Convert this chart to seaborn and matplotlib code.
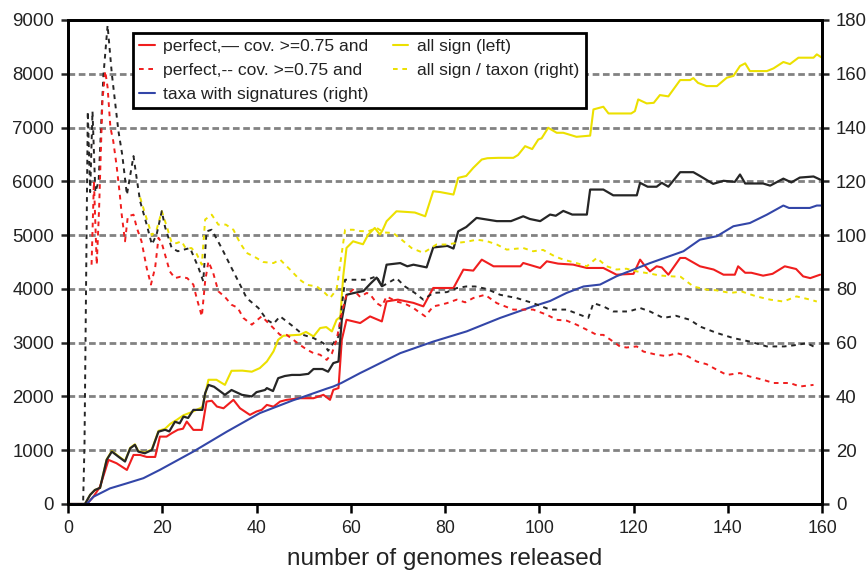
import matplotlib
matplotlib.use("Agg")
import matplotlib.pyplot as plt
import seaborn as sns

# --- values (x = number of genomes released) ---

# black solid: cov. >= 0.75 and ... (left axis)
cov_x = [0, 3.6, 4.7, 5.7, 6.8, 8.2, 9.3, 10.7, 12.1, 13.2, 14.2, 14.9, 16.3, 17.8, 19.2, 20.6,
         21.5, 22.7, 23.7, 24.5, 25.5, 26.6, 28.5, 29.1, 29.8, 31.0, 33.3, 34.7, 36.9, 39.0, 40.0,
         41.8, 42.2, 43.5, 44.6, 46.0, 47.5, 49.2, 51.0, 52.1, 54.0, 55.2, 56.3, 57.4, 58.1, 59.1,
         60.5, 62.7, 64.2, 65.5, 66.6, 67.6, 70.5, 72.0, 73.3, 76.1, 77.5, 80.5, 81.8, 82.8, 84.5,
         86.7, 91.0, 94.0, 96.6, 98.0, 100.2, 102.3, 103.5, 105.1, 107.0, 110.1, 110.8, 113.6,
         115.7, 120.7, 121.4, 123.0, 124.9, 126.0, 127.4, 129.9, 132.7, 134.1, 136.9, 139.1,
         141.5, 142.6, 143.7, 147.5, 149.0, 151.8, 153.5, 155.3, 158.2, 159.6]
cov_y = [0, 0, 170, 260, 300, 820, 975, 880, 790, 1035, 1100, 975, 943, 1005, 1345, 1380,
         1350, 1530, 1500, 1625, 1600, 1750, 1750, 2060, 2215, 2180, 2030, 2120, 2030, 2000, 2080,
         2120, 2155, 2100, 2340, 2380, 2400, 2400, 2420, 2510, 2510, 2460, 2620, 2650, 3430, 3890,
         3920, 3960, 4100, 4210, 4050, 4450, 4480, 4420, 4450, 4400, 4770, 4800, 4750, 5070, 5150,
         5320, 5260, 5260, 5350, 5300, 5260, 5382, 5360, 5450, 5382, 5382, 5847, 5847,
         5740, 5740, 5972, 5900, 5900, 5972, 5900, 6170, 6170, 6100, 5953, 6010,
         5990, 6127, 5960, 5960, 5920, 6050, 5980, 6070, 6090, 6033]

# red solid: perfect (left axis)
perf_x = [0, 4.0, 5.4, 6.8, 8.6, 10.3, 12.5, 13.9, 15.3, 16.7, 18.5, 19.5, 20.9, 22.0, 23.3, 24.4,
          25.2, 26.6, 28.4, 29.4, 30.5, 31.6, 33.0, 35.1, 36.5, 38.6, 40.0, 41.1, 42.2, 43.6, 45.0,
          46.4, 49.2, 52.1, 54.2, 55.6, 56.3, 57.4, 58.1, 59.1, 62.0, 64.1, 66.6, 67.6, 70.0, 73.3,
          75.4, 77.5, 81.8, 83.9, 86.0, 87.8, 90.3, 96.0, 96.6, 100.2, 101.6, 104.0, 107.2, 110.1,
          113.6, 116.4, 120.0, 121.4, 122.4, 123.5, 124.9, 126.0, 127.4, 129.9, 131.0, 134.1, 137.0,
          139.1, 141.5, 142.2, 143.7, 145.0, 147.5, 149.5, 152.1, 154.5, 156.0, 157.5, 159.6]
perf_y = [0, 0, 136, 322, 820, 758, 633, 912, 912, 875, 875, 1253, 1253, 1316, 1380, 1400,
          1533, 1378, 1378, 1905, 1920, 1812, 1780, 1937, 1780, 1657, 1720, 1750, 1843, 1810, 1905,
          1937, 1967, 1967, 2030, 1937, 2123, 2155, 3054, 3426, 3365, 3488, 3395, 3767, 3800, 3740,
          3675, 4017, 4017, 4358, 4340, 4544, 4420, 4420, 4482, 4389, 4513, 4470, 4451, 4389,
          4389, 4264, 4280, 4544, 4430, 4326, 4420, 4400, 4264, 4575, 4575, 4420, 4360,
          4264, 4264, 4420, 4300, 4300, 4246, 4280, 4420, 4370, 4233, 4200, 4264]

# yellow solid: all sign (left axis)
sign_x = [0, 3.6, 4.7, 5.7, 6.8, 8.2, 9.3, 10.7, 12.1, 13.2, 14.2, 14.9, 16.3, 17.8, 19.2, 20.6,
          21.7, 23.0, 24.5, 26.0, 27.5, 28.5, 29.8, 31.5, 33.3, 34.7, 37.0, 39.0, 40.7, 42.2, 43.6,
          44.6, 45.7, 49.2, 50.5, 52.1, 53.5, 54.8, 56.0, 57.0, 57.8, 58.4, 59.1, 60.5, 61.6, 62.6,
          63.7, 65.1, 66.2, 66.8, 67.6, 69.7, 72.0, 73.6, 75.8, 77.5, 79.0, 81.8, 82.8, 84.5, 86.0,
          87.8, 89.0, 91.3, 94.5, 95.5, 97.0, 98.5, 99.8, 100.5, 101.9, 103.7, 105.1, 107.9, 110.8,
          111.5, 113.6, 114.7, 119.5, 120.3, 121.0, 122.8, 124.3, 125.6, 127.4, 129.9, 132.0,
          132.7, 133.7, 135.5, 137.7, 139.8, 141.2, 142.6, 143.7, 144.7, 148.3, 149.7, 151.8,
          153.2, 155.0, 158.2, 158.9, 160.0]
sign_y = [0, 0, 170, 260, 300, 830, 985, 890, 800, 1045, 1110, 985, 955, 1015, 1360, 1400,
          1490, 1560, 1650, 1700, 1760, 1800, 2310, 2310, 2215, 2477, 2480, 2460, 2527, 2650, 2837,
          3054, 3129, 3147, 3200, 3116, 3272, 3290, 3209, 3426, 3480, 4233, 4762, 4885, 4855, 4830,
          5009, 5133, 5009, 5100, 5257, 5443, 5430, 5420, 5350, 5816, 5800, 5754, 6065, 6100, 6251,
          6406, 6430, 6437, 6437, 6490, 6654, 6600, 6778, 6800, 6996, 6903, 6903, 6828, 6850,
          7337, 7387, 7262, 7262, 7306, 7523, 7449, 7460, 7604, 7580, 7883, 7883,
          7920, 7830, 7771, 7771, 7927, 7960, 8144, 8194, 8050, 8050, 8100, 8219,
          8180, 8299, 8299, 8361, 8299]

# blue: taxa with signatures (right axis)
taxa_x = [0, 4.0, 5.4, 8.9, 12.5, 16.0, 19.5, 26.6, 33.7, 40.7, 47.8, 49.2, 54.9, 56.3, 58.0,
          62.0, 63.4, 70.5, 77.5, 84.6, 91.7, 98.7, 102.3, 105.8, 109.4, 112.9, 116.4, 123.5,
          130.6, 134.1, 137.7, 141.2, 144.7, 148.3, 151.8, 153.0, 157.4, 158.9, 160.0]
taxa_y = [0, 0, 2.7, 5.8, 7.7, 9.6, 12.7, 19.5, 26.9, 33.8, 38.6, 39.4, 42.9, 43.7, 45.0,
          48.7, 49.9, 56.1, 60.4, 64.2, 69.2, 73.5, 75.5, 78.5, 80.9, 81.6, 84.7, 89.6,
          94.0, 98.3, 99.6, 103.3, 104.5, 107.6, 111.0, 110.1, 110.1, 111.0, 111.0]

# black dashed: cov. >= 0.75 and ... per taxon (right axis)
covt_x = [0, 3.2, 3.5, 4.2, 4.7, 5.2, 5.8, 6.5, 7.5, 8.4, 9.3, 10.7, 11.5, 12.5, 13.9, 14.5, 15.3,
          16.7, 17.8, 18.8, 19.9, 20.6, 22.0, 23.3, 25.9, 27.7, 28.7, 29.4, 30.5, 32.6, 34.7, 36.5,
          37.9, 40.4, 42.2, 43.6, 45.0, 47.8, 49.9, 52.1, 54.2, 55.2, 56.3, 57.4, 58.1, 58.8, 61.6,
          63.4, 65.5, 66.6, 69.7, 71.5, 73.6, 75.4, 77.5, 80.4, 82.5, 84.5, 86.4, 88.8, 91.7, 95.2,
          98.7, 102.3, 105.8, 108.6, 110.4, 111.5, 113.6, 115.7, 119.0, 121.4, 123.5, 126.3, 129.0,
          132.0, 134.1, 137.7, 141.2, 144.7, 148.3, 152.0, 154.0, 156.8, 158.9]
covt_y = [0, 0, 22, 146, 116, 146, 116, 120, 159, 178, 160, 138.7, 130, 115, 129.4, 122, 112.6,
          103.9, 96.5, 100.2, 108.9, 103, 95.2, 94, 95.2, 87.8, 82.8, 101.4, 102, 95.2, 87.8, 81.6,
          76.6, 72.9, 68.5, 67, 69.8, 66.0, 62.9, 61.7, 59.8, 57, 59.8, 62.3, 73.5, 83.4, 83.4,
          83.4, 84.7, 80.9, 84, 80.9, 78.5, 76, 78.5, 78.8, 80.3, 80.9, 80.9, 80, 77.8, 76.6,
          74.7, 72.3, 72.3, 70.4, 69.2, 74.7, 73.5, 71.6, 71.6, 72.9, 71.6, 69.2, 70,
          68.5, 66, 63.6, 61.7, 60.4, 58.6, 58.6, 59, 59.8, 58]

# red dashed: perfect per taxon (right axis)
perft_x = [5.0, 5.5, 6.1, 6.6, 7.3, 7.9, 8.4, 9.0, 9.6, 10.3, 11.0, 11.4, 12.1, 12.7, 13.9, 14.6,
           15.6, 16.7, 17.6, 18.5, 19.2, 19.9, 20.6, 21.6, 22.7, 23.8, 25.3, 26.6, 27.3, 28.4, 29.1,
           29.8, 30.8, 31.9, 33.3, 34.7, 36.0, 37.2, 39.0, 41.1, 43.6, 45.0, 46.4, 47.8, 49.2, 50.7,
           52.1, 53.5, 54.9, 56.0, 57.0, 58.1, 59.1, 60.5, 62.0, 63.4, 64.1, 65.5, 66.6, 67.6, 69.7,
           71.5, 73.3, 74.3, 75.8, 77.5, 78.9, 80.4, 82.5, 84.3, 86.0, 88.5, 91.0, 94.5, 98.7, 101.6,
           103.7, 105.8, 107.9, 110.1, 112.2, 113.6, 115.7, 117.1, 118.5, 120.7, 122.1, 124.9, 127.0,
           129.2, 131.6, 133.4, 135.5, 137.7, 139.8, 142.6, 144.7, 147.5, 149.7, 153.2, 155.3, 158.2]
perft_y = [89, 120, 89, 110, 150, 161, 155, 140, 135, 126, 115, 107.6, 97.7, 107, 107.6, 102.7,
           97.7, 87.8, 81.6, 88, 99, 97, 92.7, 86.5, 84, 84.5, 84, 81.6, 76.6, 69.8, 82.8,
           90.2, 86, 79.1, 77, 74.1, 73, 69.2, 66.7, 69.8, 65.4, 62.9, 62.9, 61.1, 59.2, 57.4,
           56.1, 55.5, 53.6, 56, 61.1, 71, 77.8, 79.7, 77, 78.5, 78, 74.7, 73.5, 77.2, 75.3,
           74.5, 72.9, 71.6, 69.8, 73.5, 74, 74.7, 76, 75, 76.6, 77.8, 74.7, 72.3, 72.3, 70.4,
           68.5, 68.2, 66.7, 64.8, 62.9, 62.9, 60.4, 58.6, 58.2, 58.6, 56.7, 55.5, 55,
           56.1, 54.9, 53, 52, 49.9, 48, 48.7, 47.4, 46.2, 45, 45, 43.7, 44.3]

# yellow dashed: all sign / taxon (right axis); hidden under the black dashes before x~15
signt_x = [15.3, 16.7, 17.8, 18.8, 19.9, 21.0, 22.0, 23.0, 24.1, 25.0, 26.2, 27.3, 28.4, 29.1,
           30.5, 31.9, 33.5, 35.1, 36.5, 37.9, 40.0, 41.4, 43.6, 45.0, 47.1, 49.2, 50.7, 52.8, 54.5,
           55.6, 57.0, 58.1, 58.8, 60.5, 62.0, 63.7, 65.5, 67.0, 69.0, 70.8, 72.9, 75.4, 78.2, 80.4,
           82.5, 84.5, 86.7, 88.8, 91.0, 93.1, 96.6, 98.7, 100.8, 103.3, 105.1, 107.9, 110.1, 112.2,
           114.3, 116.4, 118.5, 120.7, 123.5, 125.5, 127.7, 130.0, 132.7, 135.5, 137.5, 140.5,
           143.0, 146.1, 149.0, 151.8, 154.6, 157.5, 158.9]
signt_y = [114, 106, 100, 102, 108.9, 103, 97.1, 97, 97.7, 95, 95.2, 93, 89, 105.8,
           107.6, 103.9, 103.9, 102, 97.1, 93.4, 91.5, 90, 89.6, 90.9, 87.2, 83.4, 81.5, 80.9, 78.5,
           76.6, 79.7, 93.4, 102, 102, 101.5, 101.4, 102.7, 101, 100.8, 98.3, 95.2, 93.4, 96.5, 96.5,
           97.1, 97.5, 98.3, 97.8, 96.5, 94.6, 95.2, 94, 94.5, 92.1, 90.9, 89.6, 88.4, 91.5,
           88.4, 87.2, 87.5, 86.5, 85.7, 85, 84.7, 84.5, 80.9, 79.7, 79.5, 78.5,
           79, 77.2, 76, 75.3, 77.2, 76, 75.3]

x_ticks = list(range(0, 161, 20))
left_ticks = list(range(0, 9001, 1000))
right_ticks = list(range(0, 181, 20))

RED = "#f01e1e"
YELLOW = "#ece000"
BLUE = "#3346a8"
BLACK = "#262626"

sns.set_style("ticks")
plt.rcParams["font.family"] = ["Liberation Sans", "DejaVu Sans"]

fig = plt.figure(figsize=(8.67, 5.70), dpi=100)
ax = fig.add_axes([68 / 867, 1 - 504 / 570, 754 / 867, 484 / 570])
ax2 = ax.twinx()

short_dash = (0, (2.4, 2.4))

# left axis series
sns.lineplot(x=sign_x, y=sign_y, ax=ax, color=YELLOW, linewidth=1.5,
             estimator=None, label="all sign (left)", legend=False)
sns.lineplot(x=perf_x, y=perf_y, ax=ax, color=RED, linewidth=1.5,
             estimator=None, label="perfect,\u2014 cov. >=0.75 and", legend=False)
sns.lineplot(x=cov_x, y=cov_y, ax=ax, color=BLACK, linewidth=1.6,
             estimator=None, legend=False)

# right axis series
sns.lineplot(x=taxa_x, y=taxa_y, ax=ax2, color=BLUE, linewidth=1.5,
             estimator=None, label="taxa with signatures (right)", legend=False)
sns.lineplot(x=signt_x, y=signt_y, ax=ax2, color=YELLOW, linewidth=1.4, linestyle=short_dash,
             estimator=None, label="all sign / taxon (right)", legend=False)
sns.lineplot(x=covt_x, y=covt_y, ax=ax2, color=BLACK, linewidth=1.4, linestyle=short_dash,
             estimator=None, legend=False)
sns.lineplot(x=perft_x, y=perft_y, ax=ax2, color=RED, linewidth=1.4, linestyle=short_dash,
             estimator=None, label="perfect,-- cov. >=0.75 and", legend=False)

ax.set_xlim(0, 160)
ax.set_ylim(0, 9000)
ax2.set_ylim(0, 180)
ax.set_xticks(x_ticks)
ax.set_yticks(left_ticks)
ax2.set_yticks(right_ticks)

ax.yaxis.grid(True, color="#828282", linestyle=(0, (2.4, 1.3)), linewidth=2.0)
ax.xaxis.grid(False)
ax.set_axisbelow(True)

for a in (ax, ax2):
    for side in ("left", "right", "top", "bottom"):
        a.spines[side].set_visible(True)
        a.spines[side].set_linewidth(2.0)
        a.spines[side].set_color("black")

ax.tick_params(axis="x", direction="out", length=6.5, width=1.8, labelsize=12.8, pad=5,
               colors="black", labelcolor="#222222")
ax.tick_params(axis="y", direction="out", length=5, width=1.8, labelsize=13.4, pad=5,
               labelcolor="#222222")
ax2.tick_params(axis="y", direction="out", length=5, width=1.8, labelsize=13.4, pad=5,
                labelcolor="#222222")

ax.set_ylabel("")
ax2.set_ylabel("")
ax.set_xlabel("number of genomes released", fontsize=17.5, color="#222222", labelpad=8)

# legend: two columns, black lines are only named inside the labels
h1, l1 = ax.get_legend_handles_labels()
h2, l2 = ax2.get_legend_handles_labels()
lookup = dict(zip(l1 + l2, h1 + h2))
order = ["perfect,\u2014 cov. >=0.75 and", "perfect,-- cov. >=0.75 and",
         "taxa with signatures (right)", "all sign (left)", "all sign / taxon (right)"]
leg = ax2.legend([lookup[k] for k in order], order, ncol=2, loc="upper left",
                 bbox_to_anchor=(0.086, 0.973), fontsize=12.6, frameon=True, fancybox=False,
                 framealpha=1, edgecolor="black", handlelength=0.9, handletextpad=0.5,
                 columnspacing=1.35, labelspacing=0.48, borderpad=0.35, borderaxespad=0)
leg.get_frame().set_linewidth(2.0)
for t in leg.get_texts():
    t.set_color("#222222")

fig.savefig("out.png", dpi=100)
